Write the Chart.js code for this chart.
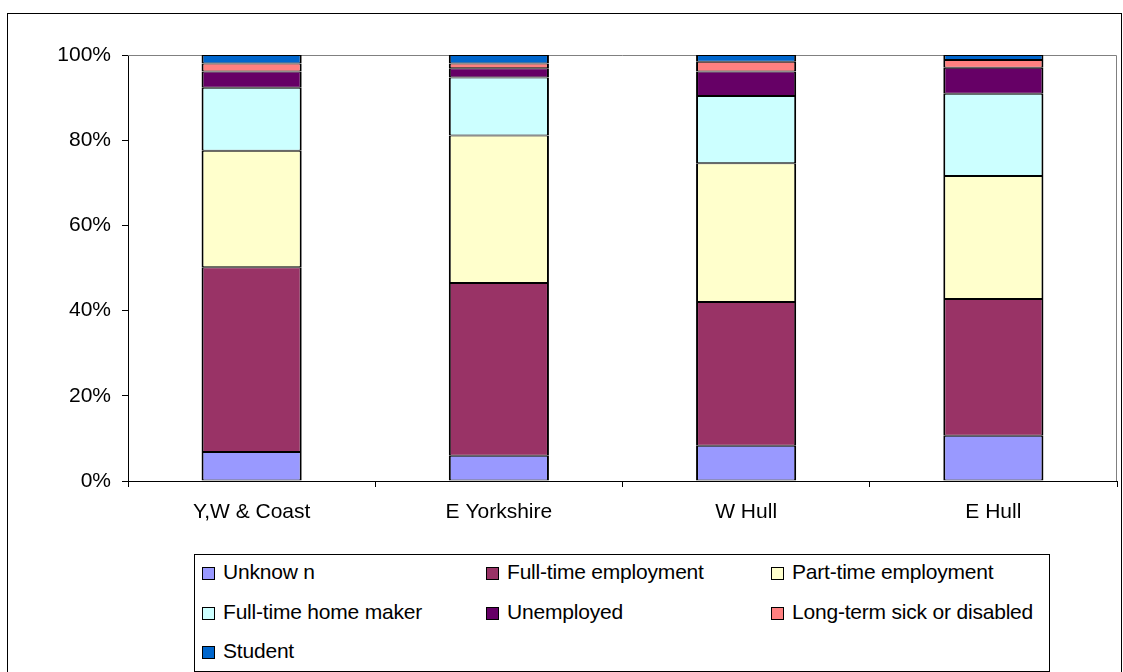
<!DOCTYPE html>
<html>
<head>
<meta charset="utf-8">
<script src="https://cdn.jsdelivr.net/npm/chart.js@4/dist/chart.umd.min.js"></script>
<style>
  html, body { margin: 0; padding: 0; background: #fff; }
  #wrap { position: relative; width: 1123px; height: 672px; overflow: hidden; font-family: "Liberation Sans", Arial, sans-serif; }
  #c { position: absolute; left: 0; top: 0; }
  #frame { position: absolute; left: 7px; top: 13px; width: 1113px; height: 660px; border: 1px solid #000; pointer-events: none; }
  #legend { position: absolute; left: 194px; top: 554px; width: 854px; height: 116px; border: 1px solid #000; background: #fff; }
  .li { position: absolute; height: 24px; line-height: 24px; font-size: 21px; color: #000; white-space: nowrap; letter-spacing: -0.2px; }
  .sw { position: absolute; left: 0; top: 5px; width: 11px; height: 11px; border: 1px solid #000; }
  .tx { position: absolute; left: 21px; top: -2px; }
</style>
</head>
<body>
<div id="wrap">
  <canvas id="c" width="1123" height="672"></canvas>
  <div id="frame"></div>
  <div id="legend"></div>
</div>
<script>
const categories = ["Y,W & Coast", "E Yorkshire", "W Hull", "E Hull"];
const seriesNames = ["Unknow n", "Full-time employment", "Part-time employment", "Full-time home maker", "Unemployed", "Long-term sick or disabled", "Student"];
const unknownVals   = [6.8, 5.9, 8.3, 10.6];
const fullTimeVals  = [43.4, 40.6, 33.7, 32.1];
const partTimeVals  = [27.3, 34.6, 32.6, 28.9];
const homeMakerVals = [14.8, 13.6, 15.8, 19.3];
const unemployedVals= [3.8, 2.2, 5.7, 6.1];
const sickVals      = [1.9, 1.1, 2.3, 1.8];
const studentVals   = [2.0, 2.0, 1.6, 1.2];
const yTicks = [0, 20, 40, 60, 80, 100];

const seriesValues = [unknownVals, fullTimeVals, partTimeVals, homeMakerVals, unemployedVals, sickVals, studentVals];
const colors = ["#9999FF", "#993366", "#FFFFCC", "#CCFFFF", "#660066", "#FF8080", "#0066CC"];

const FONT = { family: "'Liberation Sans', Arial, sans-serif", size: 21 };

const plotBorder = {
  id: 'plotBorder',
  beforeDatasetsDraw(chart) {
    const a = chart.chartArea, ctx = chart.ctx;
    ctx.save();
    ctx.strokeStyle = '#808080';
    ctx.lineWidth = 1;
    ctx.beginPath();
    ctx.moveTo(a.left, a.top + 0.5);
    ctx.lineTo(a.right - 0.5, a.top + 0.5);
    ctx.lineTo(a.right - 0.5, a.bottom);
    ctx.stroke();
    ctx.restore();
  }
};

const chart = new Chart(document.getElementById('c'), {
  type: 'bar',
  data: {
    labels: categories,
    datasets: seriesNames.map((n, i) => ({
      label: n,
      data: seriesValues[i],
      backgroundColor: colors[i],
      borderColor: '#000',
      borderWidth: { left: 2, right: 2, top: 1, bottom: 1 },
      borderSkipped: false,
      categoryPercentage: 1,
      barPercentage: 0.405
    }))
  },
  options: {
    responsive: false,
    animation: false,
    devicePixelRatio: 1,
    layout: { padding: { top: 55, right: 6, left: 0, bottom: 0 } },
    plugins: { legend: { display: false }, tooltip: { enabled: false } },
    scales: {
      x: {
        stacked: true,
        offset: true,
        grid: { offset: true, drawOnChartArea: false, drawTicks: true, tickLength: 6, color: '#000' },
        border: { color: '#000', width: 1 },
        ticks: { font: FONT, color: '#000', padding: 13, maxRotation: 0 },
        afterFit(s) { s.height = 191; }
      },
      y: {
        stacked: true,
        min: 0, max: 100,
        afterBuildTicks(s) { s.ticks = yTicks.map(v => ({ value: v })); },
        grid: { drawOnChartArea: false, drawTicks: true, tickLength: 6, color: '#000' },
        border: { color: '#000', width: 1 },
        ticks: { font: FONT, color: '#000', padding: 11, callback: v => v + '%' },
        afterFit(s) { s.width = 128; }
      }
    }
  },
  plugins: [plotBorder]
});

// HTML legend built from the chart's datasets (3 columns)
const leg = document.getElementById('legend');
const colX = [7, 291, 576];
const rowY = [7, 47, 86];
chart.data.datasets.forEach((ds, i) => {
  const d = document.createElement('div');
  d.className = 'li';
  d.style.left = colX[i % 3] + 'px';
  d.style.top = rowY[Math.floor(i / 3)] + 'px';
  const sw = document.createElement('span');
  sw.className = 'sw';
  sw.style.background = ds.backgroundColor;
  const tx = document.createElement('span');
  tx.className = 'tx';
  tx.textContent = ds.label;
  d.appendChild(sw); d.appendChild(tx);
  leg.appendChild(d);
});
</script>
</body>
</html>
